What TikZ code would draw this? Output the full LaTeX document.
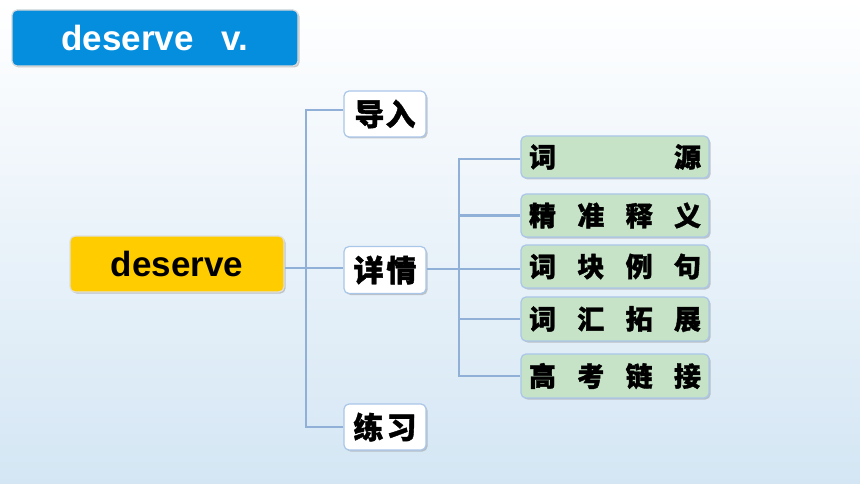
\documentclass[tikz,border=0pt]{standalone}
\usepackage{fontspec}
\setmainfont{Liberation Sans}
\newfontfamily\cjk{Noto Sans CJK SC}[BoldFeatures={FakeBold=1.3}]
\usetikzlibrary{shadows}
\definecolor{bgtop}{RGB}{255,255,255}
\definecolor{bgbot}{RGB}{212,230,244}
\definecolor{tblue}{RGB}{6,142,222}
\definecolor{gold}{RGB}{255,204,0}
\definecolor{mint}{RGB}{199,227,199}
\definecolor{rim}{RGB}{170,198,232}
\definecolor{wire}{RGB}{145,176,216}
\begin{document}
\begin{tikzpicture}[x=1pt,y=1pt,
 box/.style={draw=rim,line width=1.2pt,rounded corners=5pt,inner sep=0pt,
  drop shadow={shadow xshift=1.5pt,shadow yshift=-1.5pt,fill=black!45,opacity=.45}},
 wbox/.style={box,fill=white,minimum width=82,minimum height=46,
  font=\cjk\bfseries\fontsize{30}{32}\selectfont},
 gbox/.style={box,fill=mint,minimum width=188,minimum height=43,
  font=\cjk\bfseries\fontsize{27}{29}\selectfont},
 wire/.style={draw=wire,line width=2.8pt}]
 \useasboundingbox (0,0) rectangle (860,-484);
 \shade[top color=bgtop,bottom color=bgbot] (0,0) rectangle (860,-484);
 % <<< tiêu đề
 \node[box,draw=black!15,fill=tblue,text=white,minimum width=286,minimum height=56,
  font=\bfseries\fontsize{35}{40}\selectfont] (tt) at (155,-38) {deserve\hspace{28pt}v.};
 % <<< nhánh 1
 \node[box,draw=black!12,fill=gold,minimum width=214,minimum height=56,
  font=\bfseries\fontsize{35}{40}\selectfont] (dv) at (177,-264) {deserve};
 \node[wbox] (dr) at (385,-114) {导\hspace{1pt}入};
 \node[wbox,minimum height=47] (xq) at (385,-270) {详\hspace{3pt}情};
 \node[wbox] (lt) at (385,-427) {练\hspace{3pt}习};
 % <<< nhánh 2
 \node[gbox,minimum height=42] (cy) at (615,-157) {\makebox[172pt]{词\hfill 源}};
 \node[gbox] (jz) at (615,-215.5) {\makebox[172pt]{精\hfill 准\hfill 释\hfill 义}};
 \node[gbox] (kl) at (615,-266.5) {\makebox[172pt]{词\hfill 块\hfill 例\hfill 句}};
 \node[gbox,minimum height=44] (ch) at (615,-319) {\makebox[172pt]{词\hfill 汇\hfill 拓\hfill 展}};
 \node[gbox,minimum height=44] (gk) at (615,-376) {\makebox[172pt]{高\hfill 考\hfill 链\hfill 接}};
 \coordinate (t1) at (306,-268);
 \coordinate (t2) at (459,-269);
 \begin{scope}[wire]
 \draw ([yshift=4]dr.west) -| (t1) |- (lt.west);
 \draw (t1 -| dv.east) -- (t1 -| xq.west);
 \draw ([yshift=-2]cy.west) -| (t2) |- (gk.west);
 \draw (jz.west) -- (jz.west -| t2);
 \draw (t2 -| xq.east) -- (t2 -| kl.west);
 \draw (ch.west) -- (ch.west -| t2);
 \end{scope}
\end{tikzpicture}
\end{document}
